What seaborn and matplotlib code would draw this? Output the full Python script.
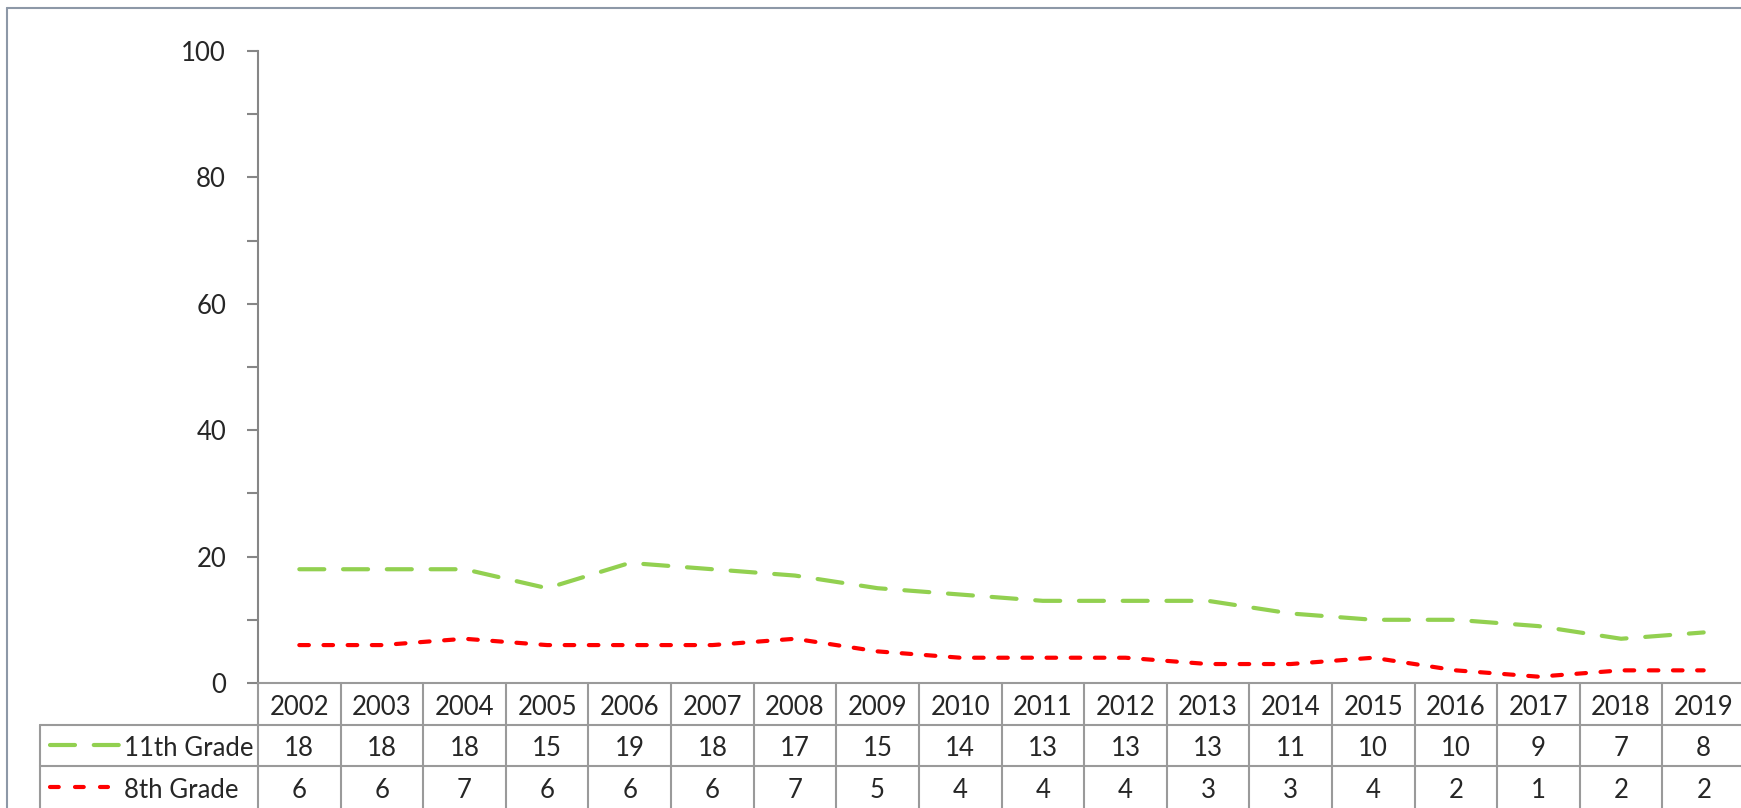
import matplotlib
matplotlib.use("Agg")
import matplotlib.pyplot as plt
import matplotlib.transforms as mtransforms
from matplotlib.lines import Line2D
import seaborn as sns
import pandas as pd

# dados
anos = list(range(2002, 2020))
grade11 = [18, 18, 18, 15, 19, 18, 17, 15, 14, 13, 13, 13, 11, 10, 10, 9, 7, 8]
grade8 = [6, 6, 7, 6, 6, 6, 7, 5, 4, 4, 4, 3, 3, 4, 2, 1, 2, 2]
series = ["11th Grade", "8th Grade"]
cores = {"11th Grade": "#92D050", "8th Grade": "#FF0000"}
tracos = {"11th Grade": (6, 4.5), "8th Grade": (2.3, 3.5)}
y_ticks = [0, 20, 40, 60, 80, 100]

sns.set_style("white")
plt.rcParams["font.family"] = ["Lato", "DejaVu Sans"]
fs = 18.5

W, H = 1741, 808
fig = plt.figure(figsize=(W / 100, H / 100), dpi=100)
# area do grafico em pixels
esq, dir_, topo, base = 258, 1745, 51, 683
ax = fig.add_axes([esq / W, 1 - base / H, (dir_ - esq) / W, (base - topo) / H])

df = pd.DataFrame({
    "ano": anos * 2,
    "valor": grade11 + grade8,
    "serie": [s for s in series for _ in anos],
})
sns.lineplot(data=df, x="ano", y="valor", hue="serie", style="serie",
             palette=cores, dashes=tracos, linewidth=3, legend=False,
             dash_capstyle="round", ax=ax)

cinza = "#9a9a9a"
ax.set_xlim(anos[0] - 0.5, anos[-1] + 0.5)
ax.set_ylim(0, 100)
ax.set_yticks(y_ticks)
ax.set_yticks(range(10, 100, 20), minor=True)
ax.set_xticks([])
ax.set_xlabel("")
ax.set_ylabel("")
ax.tick_params(axis="y", which="both", direction="out", length=8, width=1.5,
               color="#868686", left=True, labelsize=fs, pad=15)
for s in ["top", "right"]:
    ax.spines[s].set_visible(False)
ax.spines["left"].set_color("#868686")
ax.spines["left"].set_linewidth(1.5)
ax.spines["bottom"].set_color(cinza)
ax.spines["bottom"].set_linewidth(1.5)

# tabela de dados abaixo do eixo
blend = mtransforms.blended_transform_factory(ax.transData, ax.transAxes)
rh = 41.5 / (base - topo)
desloc = 3.5 / (base - topo)  # texto um pouco abaixo do centro da linha
for b in [a - 0.5 for a in anos] + [anos[-1] + 0.5]:
    ax.plot([b, b], [0, -3.2 * rh], transform=blend, color=cinza, lw=1.5, clip_on=False)
for yy in [base + 41.5, base + 83]:
    fig.add_artist(Line2D([40 / W, 1], [1 - yy / H] * 2, transform=fig.transFigure,
                          color=cinza, lw=1.5))
fig.add_artist(Line2D([40 / W] * 2, [1 - (base + 41.5) / H, 0], transform=fig.transFigure,
                      color=cinza, lw=1.5))

for i, a in enumerate(anos):
    ax.text(a, -0.5 * rh - desloc, str(a), transform=blend, ha="center", va="center",
            fontsize=fs, clip_on=False)
    ax.text(a, -1.5 * rh - desloc, str(grade11[i]), transform=blend, ha="center",
            va="center", fontsize=fs, clip_on=False)
    ax.text(a, -2.5 * rh - desloc, str(grade8[i]), transform=blend, ha="center",
            va="center", fontsize=fs, clip_on=False)

# legenda dentro da tabela
amostra = {"11th Grade": (6, 4.5), "8th Grade": (2.1, 3.9)}
fim = {"11th Grade": 119, "8th Grade": 108}
for k, s in enumerate(series):
    yc = 1 - (base + 41.5 * (k + 1.5)) / H
    fig.add_artist(Line2D([50 / W, fim[s] / W], [yc, yc], transform=fig.transFigure,
                          color=cores[s], lw=3, dashes=amostra[s], dash_capstyle="round"))
    fig.text(124 / W, yc - 3.5 / H, s, ha="left", va="center", fontsize=fs)

# moldura do grafico
moldura = "#8d98a7"
fig.add_artist(Line2D([7 / W, 7 / W], [1 - 8 / H, 0], transform=fig.transFigure,
                      color=moldura, lw=1.5))
fig.add_artist(Line2D([7 / W, 1], [1 - 8 / H] * 2, transform=fig.transFigure,
                      color=moldura, lw=1.5))

fig.savefig("out.png", dpi=100)
